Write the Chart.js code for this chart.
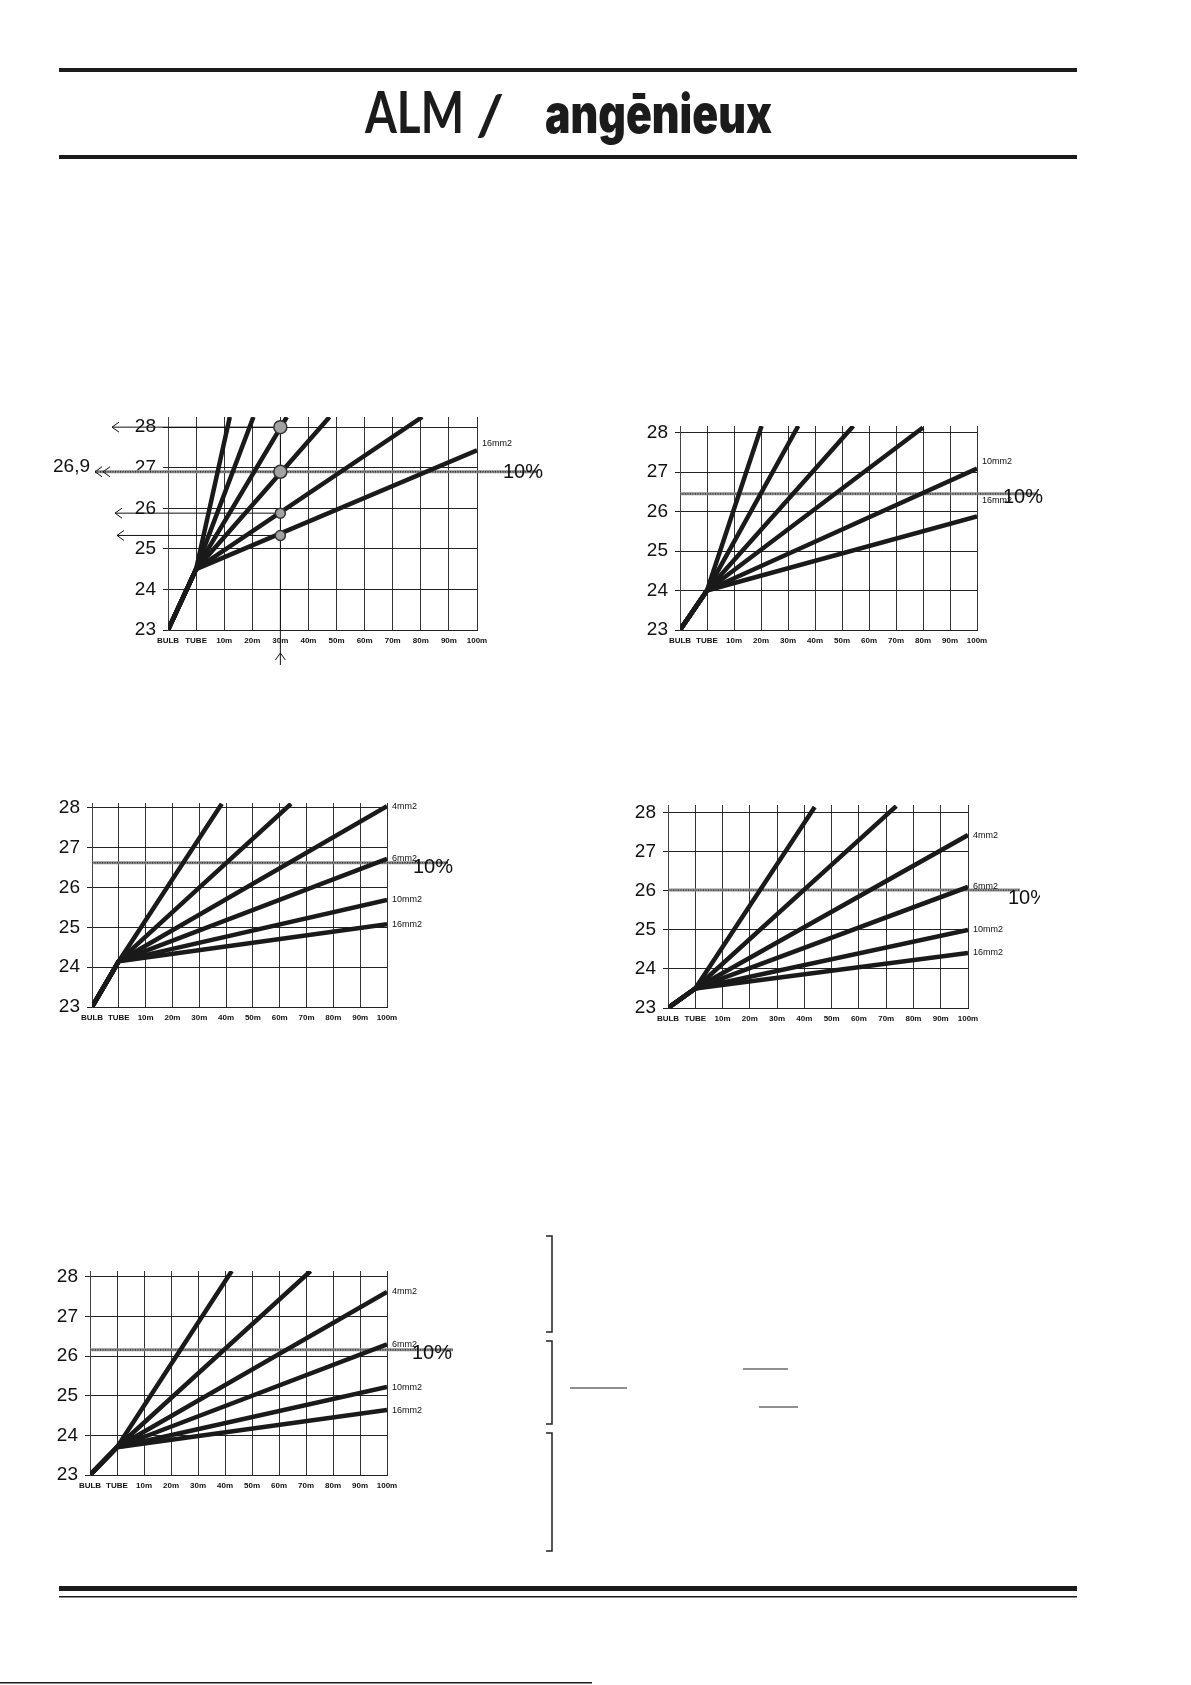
<!DOCTYPE html>
<html>
<head>
<meta charset="utf-8">
<script src="https://cdn.jsdelivr.net/npm/chart.js@4.4.1/dist/chart.umd.min.js"></script>
<style>
  html, body { margin: 0; padding: 0; background: #fff; }
  #page { position: relative; width: 1191px; height: 1685px; overflow: hidden; background: #fff; }
  #page canvas { position: absolute; }
</style>
</head>
<body>
<div id="page"><canvas id="bg" width="1191" height="1685" style="left:0;top:0"></canvas></div>
<script>
// axes
const categories = ['BULB', 'TUBE', '10m', '20m', '30m', '40m', '50m', '60m', '70m', '80m', '90m', '100m'];
const yTicks = [23, 24, 25, 26, 27, 28];
const startValue = 23;     // every curve starts at 23 at BULB
const limitText = '10%';

// chart 1 (top left)
const c1Tube = 24.5;
const c1EndX = [2.2, 3.04, 4.23, 5.75, 9.05, 11];
const c1EndY = [28.25, 28.25, 28.25, 28.25, 28.25, 27.43];
const c1Sizes = ['', '', '', '', '', '16mm2'];
const c1Limit = 26.9;
const c1LimitLabel = '26,9';
const c1MarkAt = '30m';
const c1Marks = [28, 26.9, 25.88, 25.33];

// chart 2 (top right)
const c2Tube = 24.0;
const c2EndX = [3.02, 4.38, 6.42, 9.0, 11, 11];
const c2EndY = [28.17, 28.17, 28.17, 28.13, 27.09, 25.88];
const c2Sizes = ['', '', '', '', '10mm2', '16mm2'];
const c2Limit = 26.45;

// chart 3 (middle left)
const c3Tube = 24.15;
const c3EndX = [4.84, 7.42, 11, 11, 11, 11];
const c3EndY = [28.1, 28.1, 28.04, 26.72, 25.69, 25.08];
const c3Sizes = ['', '', '4mm2', '6mm2', '10mm2', '16mm2'];
const c3Limit = 26.62;

// chart 4 (middle right)
const c4Tube = 23.5;
const c4EndX = [5.38, 8.37, 11, 11, 11, 11];
const c4EndY = [28.15, 28.17, 27.43, 26.1, 25.0, 24.41];
const c4Sizes = ['', '', '4mm2', '6mm2', '10mm2', '16mm2'];
const c4Limit = 26.02;

// chart 5 (bottom left)
const c5Tube = 23.7;
const c5EndX = [5.25, 8.17, 11, 11, 11, 11];
const c5EndY = [28.15, 28.15, 27.62, 26.3, 25.22, 24.64];
const c5Sizes = ['', '', '4mm2', '6mm2', '10mm2', '16mm2'];
const c5Limit = 26.16;

// ---- page decoration ----
const bg = document.getElementById('bg').getContext('2d');
bg.fillStyle = '#fff';
bg.fillRect(0, 0, 1191, 1685);
bg.fillStyle = '#1b1b1b';
bg.fillRect(59, 68, 1018, 4);
bg.fillRect(59, 155, 1018, 4);
bg.fillRect(59, 1586, 1018, 5);
bg.fillRect(59, 1596, 1018, 1.5);
bg.fillRect(0, 1682, 592, 1.5);

function fitText(ctx, txt, font, x0, x1, base) {
    ctx.font = font;
    const m = ctx.measureText(txt).width;
    ctx.save();
    ctx.translate(x0, base);
    ctx.scale((x1 - x0) / m, 1);
    ctx.textBaseline = 'alphabetic';
    ctx.fillText(txt, 0, 0);
    ctx.restore();
}
fitText(bg, 'ALM', '700 58px Lato', 365, 464, 133);
fitText(bg, '/', '700 56px Lato', 476, 504, 135);
fitText(bg, 'angēnieux', '900 54px Inter', 545, 772, 133);

// brackets and short rules at bottom right
bg.lineWidth = 1.5;
bg.strokeStyle = '#222';
[[1236, 1332], [1341, 1424], [1433, 1551]].forEach(([y1, y2]) => {
    bg.beginPath();
    bg.moveTo(546, y1); bg.lineTo(552, y1); bg.lineTo(552, y2); bg.lineTo(546, y2);
    bg.stroke();
});
bg.lineWidth = 1.2;
[[743, 788, 1369], [570, 627, 1388], [759, 798, 1407]].forEach(([x1, x2, y]) => {
    bg.beginPath(); bg.moveTo(x1, y); bg.lineTo(x2, y); bg.stroke();
});

// ---- charts ----
function chevron(ctx, x, y, dir) {
    ctx.beginPath();
    if (dir === 'left') {
        ctx.moveTo(x + 7, y - 5); ctx.lineTo(x, y); ctx.lineTo(x + 7, y + 5);
    } else {
        ctx.moveTo(x - 5, y + 7); ctx.lineTo(x, y); ctx.lineTo(x + 5, y + 7);
    }
    ctx.stroke();
}

function isInt(v) { return Math.abs(v - Math.round(v)) < 1e-6; }

function makeChart(d, s) {
    const padL = 120, padT = 20, padR = 90, padB = 50, yw = 40;
    const cv = document.createElement('canvas');
    cv.width = s.R - s.L + padL + padR;
    cv.height = s.B - s.T + padT + padB;
    cv.style.left = (s.L - padL) + 'px';
    cv.style.top = (s.T - padT) + 'px';
    document.getElementById('page').appendChild(cv);

    const datasets = d.endX.map((ex, i) => ({
        data: [{ x: 0, y: startValue }, { x: 1, y: d.tube }, { x: ex, y: d.endY[i] }],
        showLine: true,
        borderColor: '#1a1a1a',
        borderWidth: 4.5,
        borderJoinStyle: 'round',
        pointRadius: 0,
        order: 1
    }));
    if (d.marks) {
        const mx = categories.indexOf(d.markAt);
        datasets.unshift({
            data: d.marks.map(v => ({ x: mx, y: v })),
            showLine: false,
            pointRadius: [6.5, 6.5, 5, 5],
            pointBackgroundColor: '#a2a2a2',
            pointBorderColor: '#333',
            pointBorderWidth: 1.5,
            order: 0
        });
    }

    const deco = {
        id: 'deco',
        beforeDatasetsDraw(chart) {
            const ctx = chart.ctx, xs = chart.scales.x, ys = chart.scales.y, a = chart.chartArea;
            const yl = ys.getPixelForValue(d.limit);
            ctx.save();
            ctx.lineWidth = 3;
            ctx.strokeStyle = '#8c8c8c';
            ctx.beginPath(); ctx.moveTo(a.left + s.limitFrom, yl); ctx.lineTo(a.right + s.limitTo, yl); ctx.stroke();
            ctx.lineWidth = 1.4;
            ctx.strokeStyle = '#333';
            ctx.setLineDash([1, 1.5]);
            ctx.beginPath(); ctx.moveTo(a.left + s.limitFrom, yl); ctx.lineTo(a.right + s.limitTo, yl); ctx.stroke();
            ctx.setLineDash([]);
            if (d.marks) {
                const mx = xs.getPixelForValue(categories.indexOf(d.markAt));
                ctx.lineWidth = 1;
                ctx.strokeStyle = '#111';
                d.marks.forEach((v, i) => {
                    if (s.arrowLeft[i] === null) return;
                    const py = ys.getPixelForValue(v);
                    const px = a.left + s.arrowLeft[i];
                    ctx.beginPath(); ctx.moveTo(px, py); ctx.lineTo(mx, py); ctx.stroke();
                    chevron(ctx, px, py, 'left');
                });
                s.doubleArrow.forEach(off => chevron(ctx, a.left + off, yl, 'left'));
                ctx.beginPath();
                ctx.moveTo(mx, a.bottom + 35);
                ctx.lineTo(mx, ys.getPixelForValue(d.marks[0]));
                ctx.stroke();
                chevron(ctx, mx, a.bottom + 23, 'up');
                ctx.fillStyle = '#111';
                ctx.font = '19px "Liberation Sans"';
                ctx.textAlign = 'right';
                ctx.textBaseline = 'middle';
                ctx.fillText(d.limitLabel, a.left + s.limitLabelX, yl + s.limitLabelDy);
            }
            ctx.restore();
        },
        afterDatasetsDraw(chart) {
            const ctx = chart.ctx, xs = chart.scales.x, ys = chart.scales.y, a = chart.chartArea;
            ctx.save();
            ctx.fillStyle = '#111';
            ctx.font = '9px "Liberation Sans"';
            ctx.textAlign = 'left';
            ctx.textBaseline = 'middle';
            d.sizes.forEach((txt, i) => {
                if (!txt) return;
                ctx.fillText(txt, xs.getPixelForValue(d.endX[i]) + s.labelDx, ys.getPixelForValue(d.endY[i]) + s.labelDy[i]);
            });
            if (s.clipRight) {
                ctx.beginPath();
                ctx.rect(0, 0, a.right + s.clipRight, chart.height);
                ctx.clip();
            }
            ctx.font = '20px "Liberation Sans"';
            ctx.fillText(limitText, a.right + s.textX, ys.getPixelForValue(d.limit) + s.textDy);
            ctx.restore();
        }
    };

    return new Chart(cv, {
        type: 'scatter',
        data: { datasets },
        options: {
            responsive: false,
            animation: false,
            events: [],
            layout: { padding: { left: padL - yw, top: padT, right: padR, bottom: 0 } },
            plugins: { legend: { display: false }, tooltip: { enabled: false } },
            scales: {
                x: {
                    type: 'linear',
                    min: 0,
                    max: categories.length - 1,
                    afterFit(scale) { scale.height = padB; },
                    border: { color: '#222', width: 1 },
                    grid: { color: '#333', lineWidth: 1, tickLength: 0 },
                    ticks: {
                        stepSize: 1,
                        autoSkip: false,
                        maxRotation: 0,
                        padding: 6,
                        color: '#111',
                        font: { family: 'Liberation Sans', size: 8, weight: 'bold' },
                        callback: v => categories[Math.round(v)]
                    }
                },
                y: {
                    min: startValue,
                    max: s.yMax,
                    afterFit(scale) { scale.width = yw; },
                    border: { color: '#444', width: 1 },
                    grid: {
                        color: c => isInt(c.tick.value) ? '#222' : '#888',
                        lineWidth: 1,
                        tickLength: 5
                    },
                    ticks: {
                        stepSize: 0.5,
                        includeBounds: false,
                        padding: 7,
                        color: '#111',
                        font: { family: 'Liberation Sans', size: 19 },
                        callback: v => (isInt(v) && yTicks.includes(Math.round(v))) ? String(Math.round(v)) : ''
                    }
                }
            }
        },
        plugins: [deco]
    });
}

makeChart(
    { tube: c1Tube, endX: c1EndX, endY: c1EndY, sizes: c1Sizes, limit: c1Limit,
      limitLabel: c1LimitLabel, markAt: c1MarkAt, marks: c1Marks },
    { L: 168, R: 477, T: 417, B: 630, yMax: 28.25, limitFrom: -73, limitTo: 61, textX: 26, textDy: 1,
      labelDx: 5, labelDy: [0, 0, 0, 0, 0, -7],
      arrowLeft: [-56, null, -53, -51], doubleArrow: [-73, -65], limitLabelX: -78, limitLabelDy: -5 }
);
makeChart(
    { tube: c2Tube, endX: c2EndX, endY: c2EndY, sizes: c2Sizes, limit: c2Limit },
    { L: 680, R: 977, T: 426, B: 630, yMax: 28.17, limitFrom: 0, limitTo: 61, textX: 26, textDy: 4,
      labelDx: 5, labelDy: [0, 0, 0, 0, -7, -16] }
);
makeChart(
    { tube: c3Tube, endX: c3EndX, endY: c3EndY, sizes: c3Sizes, limit: c3Limit },
    { L: 92, R: 387, T: 803, B: 1007, yMax: 28.12, limitFrom: 0, limitTo: 61, textX: 26, textDy: 5,
      labelDx: 5, labelDy: [0, 0, 0, 0, 0, 0] }
);
makeChart(
    { tube: c4Tube, endX: c4EndX, endY: c4EndY, sizes: c4Sizes, limit: c4Limit },
    { L: 668, R: 968, T: 805, B: 1008, yMax: 28.2, limitFrom: 0, limitTo: 52, textX: 40, textDy: 8,
      labelDx: 5, labelDy: [0, 0, 0, 0, 0, 0], clipRight: 72 }
);
makeChart(
    { tube: c5Tube, endX: c5EndX, endY: c5EndY, sizes: c5Sizes, limit: c5Limit },
    { L: 90, R: 387, T: 1271, B: 1475, yMax: 28.15, limitFrom: 0, limitTo: 66, textX: 25, textDy: 4,
      labelDx: 5, labelDy: [0, 0, 0, 0, 0, 0] }
);
</script>
</body>
</html>
